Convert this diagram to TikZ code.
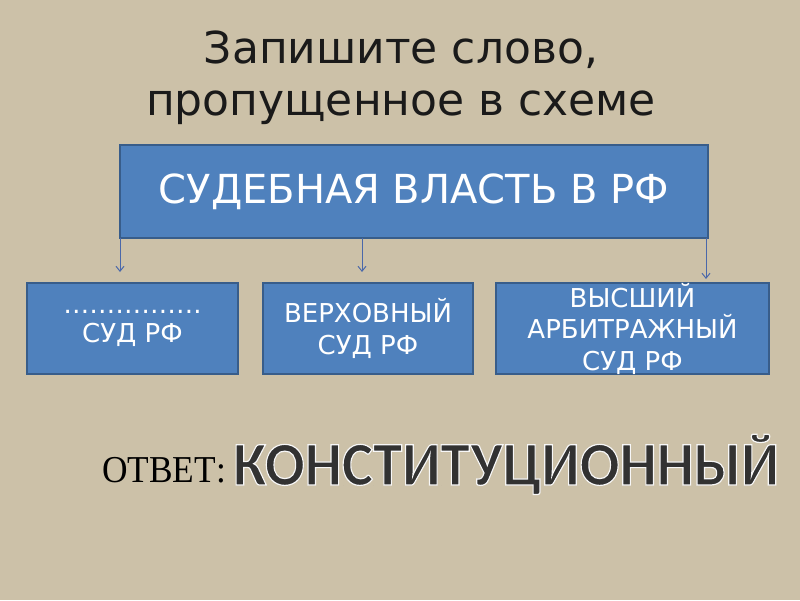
\documentclass[tikz,border=0pt]{standalone}
\usepackage{fontspec}
\setmainfont{DejaVu Sans}
\newfontfamily\serifru{Liberation Serif}
\newfontfamily\boldword{Carlito}
\usetikzlibrary{arrows.meta}
\definecolor{bgc}{RGB}{204,193,168}
\definecolor{boxfill}{RGB}{79,129,189}
\definecolor{boxline}{RGB}{56,93,138}
\definecolor{arrc}{RGB}{74,104,170}
\definecolor{titlec}{RGB}{26,26,26}
\definecolor{wordc}{RGB}{50,50,50}
\tikzset{
  bluebox/.style={draw=boxline, line width=2pt, fill=boxfill, text=white, align=center, inner sep=0pt},
  conn/.style={arrc, line width=0.9pt, -{Straight Barb[length=5pt,width=8pt,line width=1pt]}},
  boxtext/.style={font=\fontsize{26}{31.5}\selectfont},
  titletext/.style={titlec, anchor=base, inner sep=0pt, font=\fontsize{44}{50}\selectfont},
  wordtext/.style={anchor=base west, inner sep=0pt, font=\boldword\bfseries\fontsize{62}{70}\selectfont}
}
\newcommand{\answord}{\special{pdf:literal direct 2 Tr 1.2 w 0.97 0.97 0.97 RG}\scalebox{0.95}[1]{КОНСТИТУЦИОННЫЙ}\special{pdf:literal direct 0 Tr}}
\begin{document}
\begin{tikzpicture}[x=1pt,y=-1pt]
\fill[bgc] (0,0) rectangle (800,600);
\useasboundingbox (0,0) rectangle (800,600);
\node[titletext] (title1) at (401,63) {Запишите слово,};
\node[titletext] (title2) at (401,115) {пропущенное в схеме};
\node[bluebox, minimum width=588pt, minimum height=93pt, font=\fontsize{40}{38}\selectfont] (top) at (414,191.5) {СУДЕБНАЯ ВЛАСТЬ В РФ};
\node[bluebox, boxtext, minimum width=211pt, minimum height=91pt] (b1) at (132.5,328.5) {\raisebox{2pt}{…………….}\\[-4pt]СУД РФ};
\node[bluebox, boxtext, minimum width=210pt, minimum height=91pt] (b2) at (368,328.5) {ВЕРХОВНЫЙ\\СУД РФ};
\node[bluebox, boxtext, minimum width=273pt, minimum height=91pt] (b3) at (632.5,328.5) {ВЫСШИЙ\\АРБИТРАЖНЫЙ\\СУД РФ};
\coordinate (s1) at (120,238);
\coordinate (e1) at (120,272);
\coordinate (s2) at (362,238);
\coordinate (e2) at (362,272);
\coordinate (s3) at (706,238);
\coordinate (e3) at (706,279);
\draw[conn] (s1) -- (e1);
\draw[conn] (s2) -- (e2);
\draw[conn] (s3) -- (e3);
\node[anchor=base west, text=black, font=\serifru\fontsize{38}{40}\selectfont, inner sep=0pt] (ans) at (102,482) {\scalebox{0.93}[1]{ОТВЕТ:}};
\node[wordtext, text=wordc] (word) at (233,485) {\answord};
\end{tikzpicture}
\end{document}
